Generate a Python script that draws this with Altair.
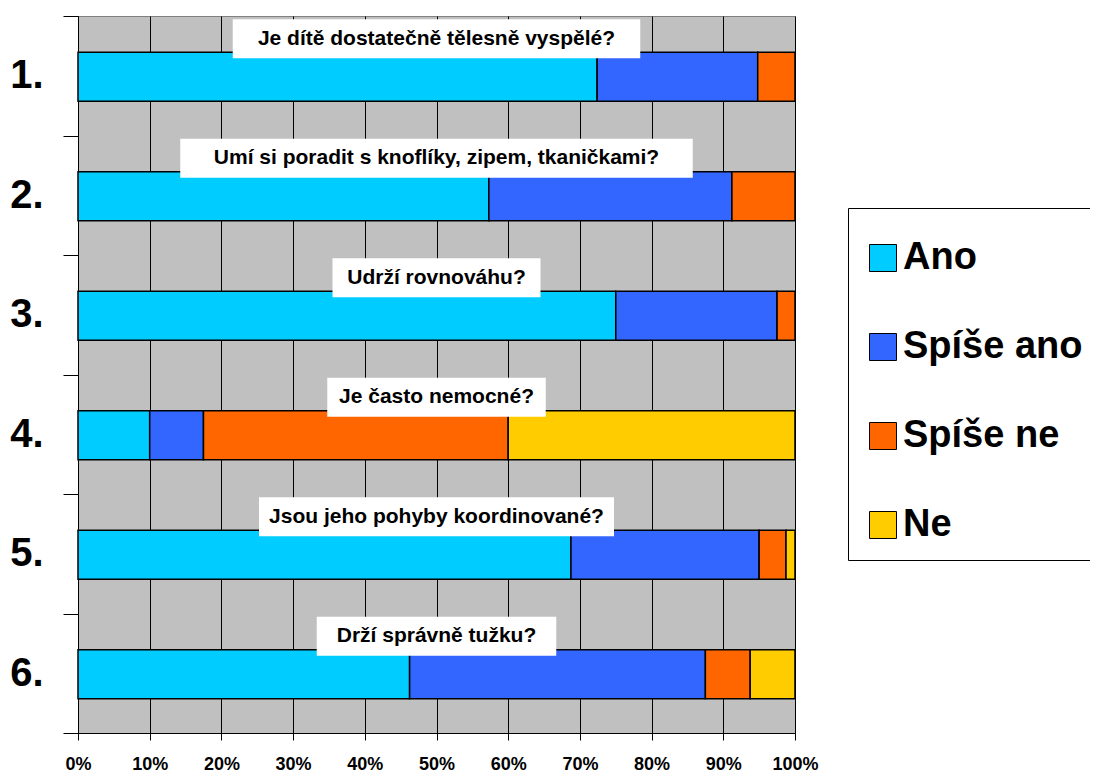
import altair as alt
import pandas as pd

rows = ["1.", "2.", "3.", "4.", "5.", "6."]
questions = [
    "Je dítě dostatečně tělesně vyspělé?",
    "Umí si poradit s knoflíky, zipem, tkaničkami?",
    "Udrží rovnováhu?",
    "Je často nemocné?",
    "Jsou jeho pohyby koordinované?",
    "Drží správně tužku?",
]
answers = ["Ano", "Spíše ano", "Spíše ne", "Ne"]
colors = ["#00CCFF", "#3366FF", "#FF6600", "#FFCC00"]

ano = [72.4, 57.3, 75.0, 10.0, 68.75, 46.25]
spise_ano = [22.4, 33.9, 22.5, 7.5, 26.25, 41.25]
spise_ne = [5.2, 8.8, 2.5, 42.5, 3.75, 6.25]
ne = [0.0, 0.0, 0.0, 40.0, 1.25, 6.25]

x_ticks = list(range(0, 101, 10))

FONT = "Liberation Sans"

series = [ano, spise_ano, spise_ne, ne]
recs = []
for i, r in enumerate(rows):
    for k, a in enumerate(answers):
        v = series[k][i]
        if v > 0:
            recs.append({"row": r, "answer": a, "value": v, "ord": k})
bars_df = pd.DataFrame(recs)
q_df = pd.DataFrame({"row": rows, "q": questions})

y_enc = alt.Y(
    "row:N",
    sort=rows,
    scale=alt.Scale(paddingInner=0, paddingOuter=0),
    axis=alt.Axis(
        title=None,
        tickBand="extent",
        tickSize=15,
        tickColor="black",
        domainColor="black",
        labelFont=FONT,
        labelFontSize=40,
        labelFontWeight="bold",
        labelColor="black",
        labelPadding=20,
        grid=False,
    ),
)

x_scale = alt.Scale(domain=[0, 100], nice=False)
x_axis = alt.Axis(
    title=None,
    values=x_ticks,
    labelExpr="datum.value + '%'",
    labelFlush=False,
    tickSize=7,
    tickColor="black",
    domainColor="black",
    grid=True,
    gridColor="black",
    gridWidth=1,
    gridOpacity=1,
    labelFont=FONT,
    labelFontSize=18,
    labelFontWeight="bold",
    labelColor="black",
    labelPadding=15,
)

bars = alt.Chart(bars_df).mark_bar(stroke="black", strokeWidth=1.5, height=49, yOffset=1).encode(
    x=alt.X("value:Q", stack="zero", scale=x_scale, axis=x_axis),
    y=y_enc,
    color=alt.Color(
        "answer:N",
        scale=alt.Scale(domain=answers, range=colors),
        sort=answers,
        legend=alt.Legend(
            orient="none",
            legendX=770,
            legendY=192,
            title=" ",
            titleFontSize=8,
            titlePadding=7,
            padding=16,
            fillColor="white",
            strokeColor="black",
            symbolType="square",
            symbolSize=729,
            symbolStrokeColor="black",
            symbolStrokeWidth=1,
            symbolOpacity=1,
            labelFont=FONT,
            labelFontSize=38,
            labelFontWeight="bold",
            labelColor="black",
            labelOffset=1,
            rowPadding=51,
            labelLimit=500,
        ),
    ),
    order=alt.Order("ord:Q"),
)

boxes = alt.Chart(q_df).transform_calculate(
    lo="50 - (length(datum.q) * 10.5 + 40) / 2 / 7.17",
    hi="50 + (length(datum.q) * 10.5 + 40) / 2 / 7.17",
).mark_bar(color="white", height=39, yOffset=-37).encode(
    x=alt.X("lo:Q", scale=x_scale, axis=x_axis),
    x2="hi:Q",
    y=y_enc,
)

texts = alt.Chart(q_df).transform_calculate(mid="50").mark_text(
    font=FONT, fontSize=21, fontWeight="bold", color="black",
    baseline="middle", align="center", yOffset=-37,
).encode(
    x=alt.X("mid:Q", scale=x_scale, axis=x_axis),
    y=y_enc,
    text="q:N",
)

chart = alt.layer(bars, boxes, texts).properties(
    width=717,
    height=717,
    autosize=alt.AutoSizeParams(type="none"),
    padding={"left": 70, "top": 8, "right": 295, "bottom": 40},
).configure_view(fill="#C0C0C0", stroke="#808080", strokeWidth=1)

chart.save("out.html", embed_options={"renderer": "svg", "actions": False})
